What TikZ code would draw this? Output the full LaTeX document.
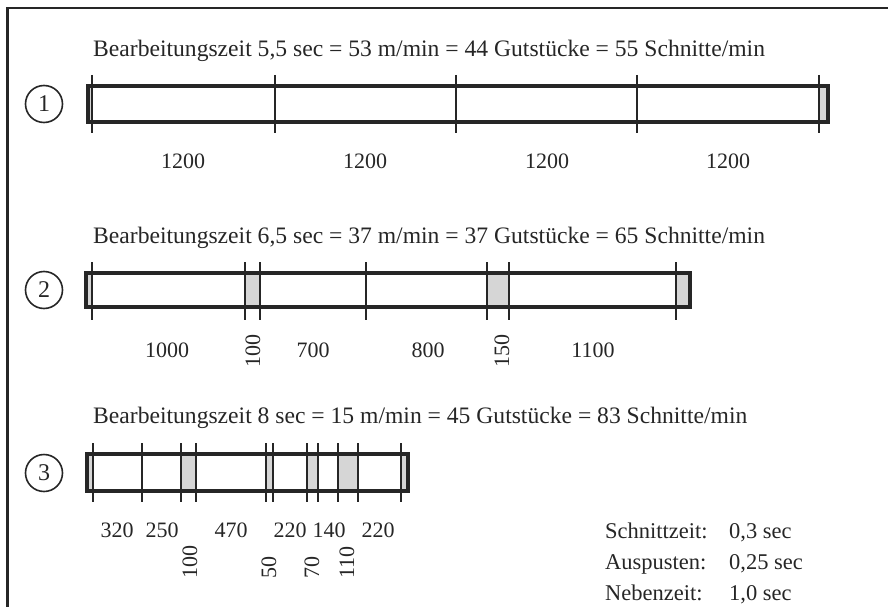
\documentclass[tikz,border=0pt]{standalone}
\usepackage{fontspec}
\setmainfont{Liberation Serif}
\definecolor{ink}{HTML}{262626}
\definecolor{gap}{HTML}{D6D6D6}
\tikzset{
  frameline/.style={draw=ink, line width=2.5pt},
  barbox/.style={draw=ink, line width=3.5pt},
  gapfill/.style={fill=gap},
  tick/.style={draw=ink, line width=2.2pt},
  title/.style={anchor=base west, inner sep=0pt, text=ink, font=\fontsize{23.6}{27}\selectfont},
  len/.style={anchor=base, inner sep=0pt, text=ink, font=\fontsize{22}{25}\selectfont},
  vlen/.style={anchor=west, rotate=90, inner sep=0pt, text=ink, font=\fontsize{22}{25}\selectfont},
  numcirc/.style={circle, draw=ink, line width=1.6pt, minimum size=37pt, inner sep=0pt, text=ink, font=\fontsize{24}{27}\selectfont},
  legend/.style={anchor=base west, inner sep=0pt, text=ink, font=\fontsize{22.5}{26}\selectfont}
}
\newcommand{\keylabel}[1]{\makebox[124pt][l]{#1}}
\begin{document}
\begin{tikzpicture}[x=1pt, y=-1pt]
\useasboundingbox (0,0) rectangle (888,607);

% open frame: left and top sides
\draw[frameline] (7.5,607) -- (7.5,8) -- (888,8);

% ---------- variant 1 ----------
\node[title] (t1) at (93,57) {Bearbeitungszeit 5,5 sec = 53 m/min = 44 Gutstücke = 55 Schnitte/min};
\node[numcirc] (c1) at (44,104) {1};
\fill[gapfill] (88,86) rectangle (92,122);
\fill[gapfill] (819,86) rectangle (828,122);
\draw[barbox] (88,86) rectangle (828,122);
\foreach \x in {92,275,456,637,819} \draw[tick] (\x,75) -- (\x,133);
\node[len] (l11) at (183,168) {1200};
\node[len] (l12) at (365,168) {1200};
\node[len] (l13) at (547,168) {1200};
\node[len] (l14) at (728,168) {1200};

% ---------- variant 2 ----------
\node[title] (t2) at (93,243) {Bearbeitungszeit 6,5 sec = 37 m/min = 37 Gutstücke = 65 Schnitte/min};
\node[numcirc] (c2) at (44,290) {2};
\foreach \a/\b in {86/92,245/260,487/509,676/690} \fill[gapfill] (\a,273) rectangle (\b,307);
\draw[barbox] (86,273) rectangle (690,307);
\foreach \x in {92,245,260,366,487,509,676} \draw[tick] (\x,262) -- (\x,320);
\node[len] (l21) at (167,357) {1000};
\node[vlen] (l22) at (253,368) {100};
\node[len] (l23) at (313,357) {700};
\node[len] (l24) at (428,357) {800};
\node[vlen] (l25) at (502,368) {150};
\node[len] (l26) at (593,357) {1100};

% ---------- variant 3 ----------
\node[title] (t3) at (93,423) {Bearbeitungszeit 8 sec = 15 m/min = 45 Gutstücke = 83 Schnitte/min};
\node[numcirc] (c3) at (44,473) {3};
\foreach \a/\b in {87/93,181/196,266/273,307/318,338/358,401/408} \fill[gapfill] (\a,454) rectangle (\b,491);
\draw[barbox] (87,454) rectangle (408,491);
\foreach \x in {93,142,181,196,266,273,307,318,338,358,401} \draw[tick] (\x,443) -- (\x,502);
\node[len] (l31) at (117,537) {320};
\node[len] (l32) at (162,537) {250};
\node[len] (l33) at (231,537) {470};
\node[len] (l34) at (290,537) {220};
\node[len] (l35) at (329,537) {140};
\node[len] (l36) at (378,537) {220};
\node[vlen] (l37) at (190,579) {100};
\node[vlen] (l38) at (269,579) {50};
\node[vlen] (l39) at (312,579) {70};
\node[vlen] (l40) at (347,579) {110};

% ---------- time legend ----------
\node[legend] (k1) at (605,538) {\keylabel{Schnittzeit:}0,3 sec};
\node[legend] (k2) at (605,569) {\keylabel{Auspusten:}0,25 sec};
\node[legend] (k3) at (605,600) {\keylabel{Nebenzeit:}1,0 sec};
\end{tikzpicture}
\end{document}
